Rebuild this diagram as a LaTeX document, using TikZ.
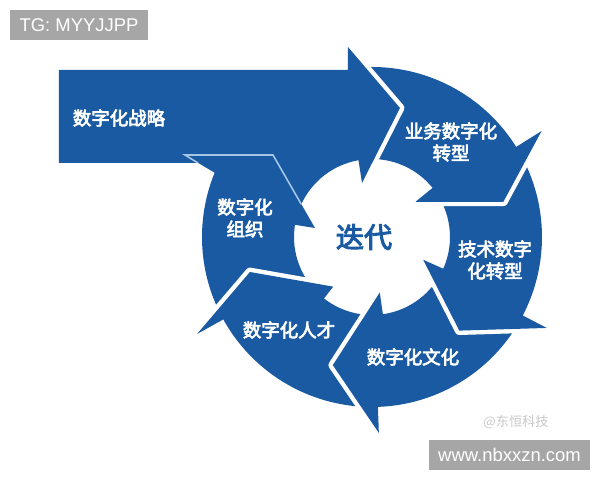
\documentclass[tikz,border=0pt]{standalone}
\usepackage{fontspec}
\setsansfont{Liberation Sans}
\newfontfamily\cjk[AutoFakeBold=3.5]{Noto Sans CJK SC}
\usepackage{tikz}

\definecolor{ringblue}{RGB}{26,90,162}
\definecolor{seamblue}{RGB}{165,198,230}
\definecolor{markgray}{RGB}{166,166,166}
\definecolor{creditgray}{RGB}{200,200,200}

\begin{document}
\begin{tikzpicture}[x=0.02cm, y=0.02cm]
        \tikzstyle{every node}=[inner sep=0pt]
        \tikzstyle{piece}=[fill=ringblue, preaction={draw=white, line width=5pt, line join=round}]
        \tikzstyle{tag}=[text=white, align=center, font=\cjk\bfseries\fontsize{10.5}{12.5}\selectfont]
        \tikzstyle{stamp}=[fill=markgray, text=white, minimum height=0.6cm, font=\sffamily\fontsize{10.5}{12}\selectfont]

        \useasboundingbox (0,0) rectangle (600,480);
        \coordinate (C) at (372,243);

        \begin{scope}[shift={(C)}]
            \fill[ringblue] (-151:170) arc[start angle=-151, end angle=-202.2, radius=170] -- (-187,82) -- (-99,82) -- (-57,9) -- (-189:78) arc[start angle=-189, end angle=-128, radius=78] -- cycle;
            \path[piece] (-88:170) arc[start angle=-88, end angle=-151, radius=170] -- (-151:200) -- (-164:127) -- (-128:63) -- (-128:78) arc[start angle=-128, end angle=-82, radius=78] -- cycle;
            \path[piece] (-27.5:170) arc[start angle=-27.5, end angle=-88, radius=170] -- (-88:196) -- (-107:134) -- (-82:56) -- (-82:78) arc[start angle=-82, end angle=-24, radius=78] -- cycle;
            \path[piece] (32:170) arc[start angle=32, end angle=-27.5, radius=170] -- (-27.5:197) -- (-47:128) -- (-24:56) -- (-24:78) arc[start angle=-24, end angle=39, radius=78] -- cycle;
            \path[piece] (98:170) arc[start angle=98, end angle=32, radius=170] -- (32:200) -- (15:136) -- (39:56) -- (39:78) arc[start angle=39, end angle=100, radius=78] -- cycle;
        \end{scope}

        \draw[white, line width=5pt, line join=round] (348,433) -- (400,372) -- (362,297);
        \fill[ringblue] (59,410) -- (348,410) -- (348,433) -- (400,372) -- (362,297) -- (358.5,319.8) arc[start angle=100, end angle=155, radius=78] -- (273,325) -- (185,325) -- (198,317) -- (59,317) -- cycle;
        \draw[seamblue, line width=0.9pt] (198,317) -- (185,325) -- (273,325) -- (301.2,275.9);

        \node (strategy) [tag] at (119,362) {数字化战略};
        \node (business) [tag] at (451,338) {业务数字化\\转型};
        \node (tech) [tag] at (495,220) {技术数字\\化转型};
        \node (culture) [tag] at (413,123) {数字化文化};
        \node (talent) [tag] at (289,150) {数字化人才};
        \node (org) [tag] at (245,262) {数字化\\组织};
        \node (iterate) [text=ringblue, font=\cjk\bfseries\fontsize{16}{18}\selectfont] at (364,243) {迭代};

        \node (tg) [stamp, minimum width=2.76cm] at (79,455) {TG: MYYJJPP};
        \node (site) [stamp, minimum width=3.22cm] at (509.5,25) {www.nbxxzn.com};
        \node (credit) [text=creditgray, font=\cjk\fontsize{7.5}{9}\selectfont] at (516,58) {@东恒科技};

    \end{tikzpicture}
\end{document}
